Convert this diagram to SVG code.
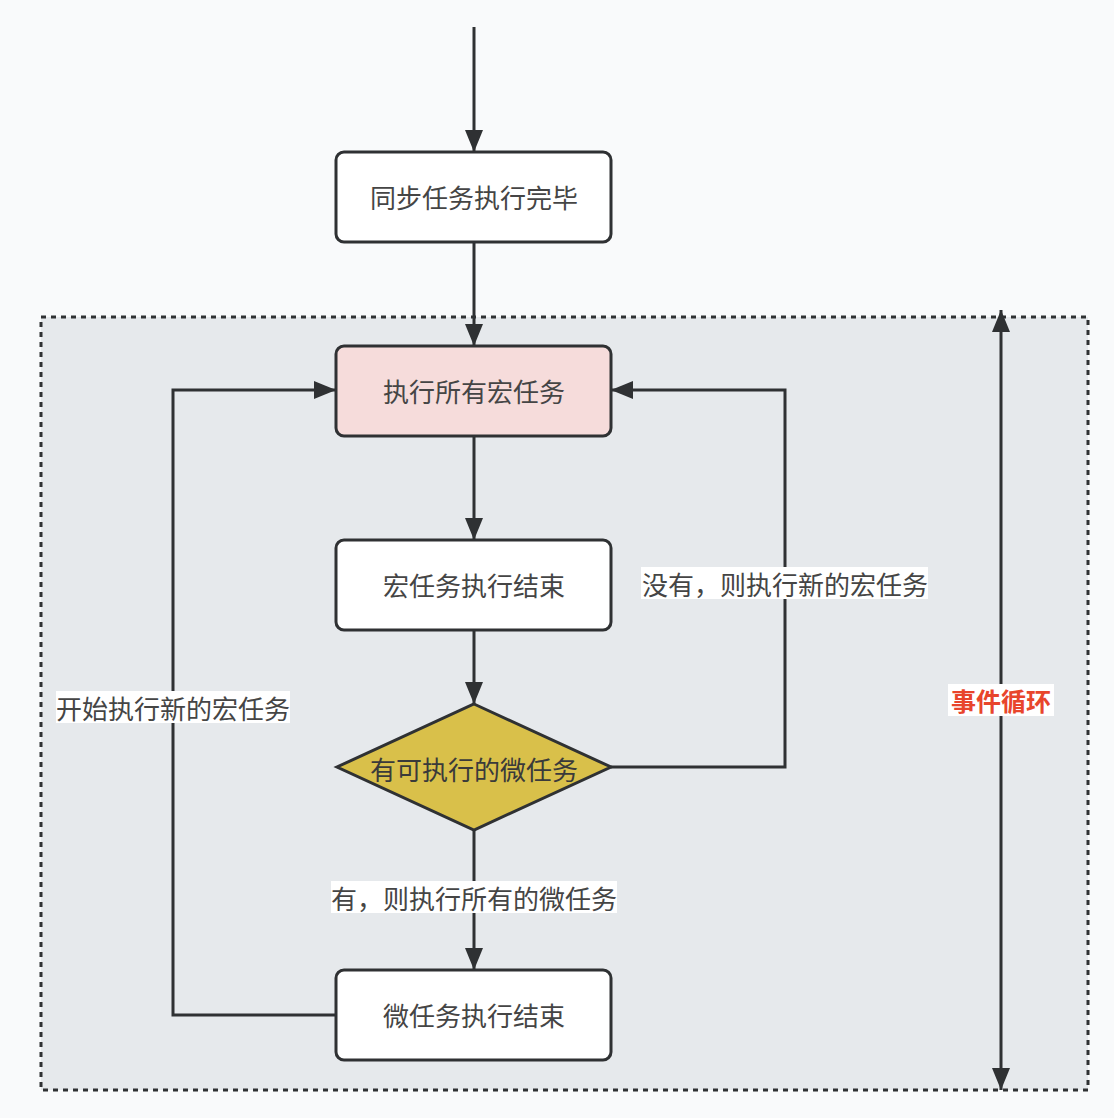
<svg xmlns="http://www.w3.org/2000/svg" width="1114" height="1118" viewBox="0 0 1114 1118">
  <style>
    .box { fill: #ffffff; stroke: #2f3133; stroke-width: 3; }
    .txt { font-family: "Noto Sans CJK SC", "Noto Sans", sans-serif; font-size: 26px; fill: #454545; text-anchor: middle; dominant-baseline: central; }
    .edge { fill: none; stroke: #2f3133; stroke-width: 3; }
    .lblbg { fill: #ffffff; }
  </style>
  <defs>
    <marker id="arrow" viewBox="0 0 22 18" refX="22" refY="9" markerWidth="22" markerHeight="18" markerUnits="userSpaceOnUse" orient="auto-start-reverse">
      <path d="M0,0 L22,9 L0,18 Z" fill="#2f3133"/>
    </marker>
  </defs>

  <rect width="1114" height="1118" fill="#f9fafb"/>

  <!-- event loop region -->
  <g id="loop-region">
    <rect x="41" y="317" width="1047" height="773" fill="#e6e9ec" stroke="#2f3133" stroke-width="3" stroke-dasharray="5 5"/>
  </g>

  <g id="connectors">
    <path class="edge" d="M474,27 L474,152" marker-end="url(#arrow)"/>
    <path class="edge" d="M474,242 L474,346" marker-end="url(#arrow)"/>
    <path class="edge" d="M474,436 L474,540" marker-end="url(#arrow)"/>
    <path class="edge" d="M474,630 L474,704" marker-end="url(#arrow)"/>
    <path class="edge" d="M474,830 L474,970" marker-end="url(#arrow)"/>
    <path class="edge" d="M336,1015 L173,1015 L173,390 L336,390" marker-end="url(#arrow)"/>
    <path class="edge" d="M611,767 L785,767 L785,390 L611,390" marker-end="url(#arrow)"/>
    <path class="edge" d="M1001,310 L1001,1090" marker-start="url(#arrow)" marker-end="url(#arrow)"/>

    <rect class="lblbg" x="641" y="567" width="287" height="32"/>
    <text class="txt" x="785" y="583">没有，则执行新的宏任务</text>
    <rect class="lblbg" x="56" y="691" width="234" height="32"/>
    <text class="txt" x="173" y="707">开始执行新的宏任务</text>
    <rect class="lblbg" x="331" y="881" width="286" height="32"/>
    <text class="txt" x="474" y="897">有，则执行所有的微任务</text>
    <rect class="lblbg" x="948" y="684" width="106" height="32"/>
    <text x="1001" y="700" font-family="Noto Sans CJK SC, sans-serif" font-size="25" font-weight="bold" fill="#e8452c" text-anchor="middle" dominant-baseline="central">事件循环</text>
  </g>

  <g id="sync-done">
    <rect class="box" x="336" y="152" width="275" height="90" rx="8"/>
    <text class="txt" x="474" y="196">同步任务执行完毕</text>
  </g>

  <g id="run-macro">
    <rect class="box" x="336" y="346" width="275" height="90" rx="8" style="fill:#f6dcdb"/>
    <text class="txt" x="474" y="390">执行所有宏任务</text>
  </g>

  <g id="macro-done">
    <rect class="box" x="336" y="540" width="275" height="90" rx="8"/>
    <text class="txt" x="474" y="584">宏任务执行结束</text>
  </g>

  <g id="has-micro">
    <polygon points="474,704 611,767 474,830 337,767" fill="#d9c04a" stroke="#2f3133" stroke-width="3"/>
    <text class="txt" x="474" y="768" style="fill:#3a3a3a">有可执行的微任务</text>
  </g>

  <g id="micro-done">
    <rect class="box" x="336" y="970" width="275" height="90" rx="8"/>
    <text class="txt" x="474" y="1014">微任务执行结束</text>
  </g>
</svg>
